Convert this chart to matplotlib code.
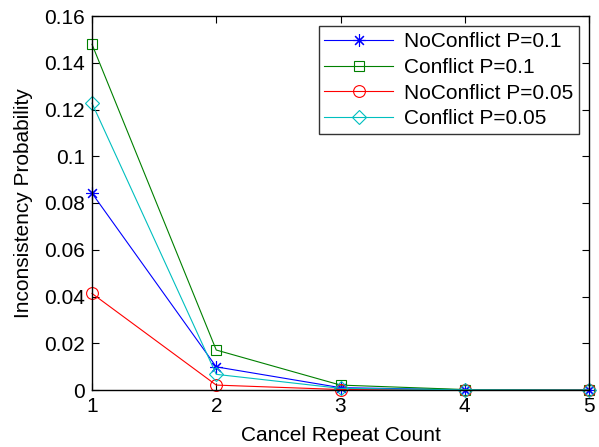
import matplotlib
matplotlib.use("Agg")
import matplotlib.pyplot as plt

plt.rcParams['font.family'] = ['Liberation Sans', 'DejaVu Sans']

repeat_count = [1, 2, 3, 4, 5]
noconflict_p01 = [0.0842, 0.0099, 0.0010, 0.0001, 0.0]
conflict_p01 = [0.1479, 0.0171, 0.0021, 0.0002, 0.0]
noconflict_p005 = [0.0413, 0.0021, 0.0002, 0.0, 0.0]
conflict_p005 = [0.1227, 0.0067, 0.0007, 0.0001, 0.0]

labels = ["NoConflict P=0.1", "Conflict P=0.1", "NoConflict P=0.05", "Conflict P=0.05"]
xticks = [1, 2, 3, 4, 5]
yticks = [0, 0.02, 0.04, 0.06, 0.08, 0.1, 0.12, 0.14, 0.16]
ytick_labels = ["0", "0.02", "0.04", "0.06", "0.08", "0.1", "0.12", "0.14", "0.16"]

FS = 15
fig = plt.figure(figsize=(5.99, 4.47), dpi=100)
ax = fig.add_axes([92/599, 1 - 390/447, (589-92)/599, (390-16)/447])

common = dict(lw=0.8, markerfacecolor='none', markeredgewidth=0.8, clip_on=False)
ax.plot(repeat_count, noconflict_p01, color='#0000ff', marker=(8, 2, 0), markersize=9,
        label=labels[0], **common)
ax.plot(repeat_count, conflict_p01, color='#008000', marker='s', markersize=6.5,
        label=labels[1], **common)
ax.plot(repeat_count, noconflict_p005, color='#ff0000', marker='o', markersize=8.5,
        label=labels[2], **common)
ax.plot(repeat_count, conflict_p005, color='#00bfbf', marker='D', markersize=7.5,
        label=labels[3], **common)

ax.set_xlim(1, 5)
ax.set_ylim(0, 0.16)
ax.set_xticks(xticks)
ax.set_xticklabels([str(x) for x in xticks])
ax.set_yticks(yticks)
ax.set_yticklabels(ytick_labels)
ax.tick_params(direction='in', length=5, width=0.8, labelsize=FS, top=True, right=True, pad=5)
for s in ax.spines.values():
    s.set_linewidth(1.0)

ax.set_xlabel("Cancel Repeat Count", fontsize=FS, labelpad=7.5)
ax.set_ylabel("Inconsistency Probability", fontsize=FS, labelpad=8)

leg = ax.legend(loc='upper right', fontsize=FS, frameon=True, fancybox=False,
                edgecolor='black', bbox_to_anchor=(1, 1), borderaxespad=0.5,
                handlelength=3.3, labelspacing=0.32, borderpad=0.28, handletextpad=0.5)
leg.get_frame().set_linewidth(1.0)

fig.savefig("out.png", dpi=100)
